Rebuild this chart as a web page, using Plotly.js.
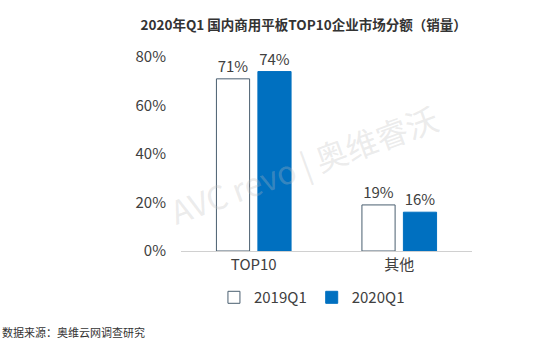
<!DOCTYPE html>
<html>
<head>
<meta charset="utf-8">
<script src="https://cdn.plot.ly/plotly-3.0.1.min.js"></script>
<style>html,body{margin:0;padding:0;background:#fff;}#chart{width:549px;height:356px;}</style>
</head>
<body>
<div id="chart"></div>
<script>
const categories = ["TOP10", "其他"];
const seriesNames = ["2019Q1", "2020Q1"];
const values2019 = [71, 19];
const values2020 = [74, 16];
const yTickVals = [0, 20, 40, 60, 80];
const yTickText = ["0%", "20%", "40%", "60%", "80%"];
const titleText = "2020年Q1 国内商用平板TOP10企业市场分额（销量）";
const sourceText = "数据来源：奥维云网调查研究";

const FONT = "'Noto Sans CJK SC', 'Noto Sans', sans-serif";

const traces = [
  {
    type: "bar", name: seriesNames[0], x: categories, y: values2019,
    marker: {color: "#ffffff", line: {color: "#4a5f70", width: 1}},
    text: values2019.map(v => v + "%"), textposition: "outside",
    textfont: {size: 15, color: "#404040", family: FONT}, cliponaxis: false
  },
  {
    type: "bar", name: seriesNames[1], x: categories, y: values2020,
    marker: {color: "#0070c0", line: {color: "#0070c0", width: 1}},
    text: values2020.map(v => v + "%"), textposition: "outside",
    textfont: {size: 15, color: "#404040", family: FONT}, cliponaxis: false
  }
];

const layout = {
  width: 549, height: 356,
  margin: {l: 181, r: 77, t: 57, b: 105},
  paper_bgcolor: "#fff", plot_bgcolor: "#fff",
  font: {family: FONT, color: "#404040"},
  barmode: "group", bargap: 0.43, bargroupgap: 0.2,
  title: {text: "<b>" + titleText + "</b>", x: 0.553, xanchor: "center", y: 0.928, yanchor: "middle",
          font: {size: 13.5, color: "#333", family: FONT}},
  xaxis: {range: [-0.5, 1.5], showline: true, linecolor: "#d0d0d0", linewidth: 1,
          ticks: "", tickfont: {size: 15, color: "#404040", family: FONT}, fixedrange: true},
  yaxis: {range: [0, 80], tickvals: yTickVals, ticktext: yTickText, showgrid: false,
          zeroline: false, showline: false, ticks: "", ticklabelstandoff: 14,
          tickfont: {size: 15, color: "#404040", family: FONT}, fixedrange: true},
  showlegend: true,
  legend: {orientation: "h", x: 0.45, xanchor: "center", y: -0.24, yanchor: "middle",
           font: {size: 15, color: "#404040", family: FONT}, itemwidth: 30, tracegroupgap: 0},
  annotations: [
    {text: sourceText, xref: "paper", yref: "paper", x: -181/291, xanchor: "left",
     y: -(332-251)/194, yanchor: "middle", showarrow: false,
     font: {size: 11, color: "#333", family: FONT}},
    {text: "AVC revo | 奥维睿沃", xref: "paper", yref: "paper", x: 0.42, y: 0.45,
     showarrow: false, textangle: -20, font: {size: 32, color: "rgba(190,190,190,0.3)", family: FONT}}
  ]
};

Plotly.newPlot("chart", traces, layout, {displayModeBar: false, staticPlot: true});
</script>
</body>
</html>
